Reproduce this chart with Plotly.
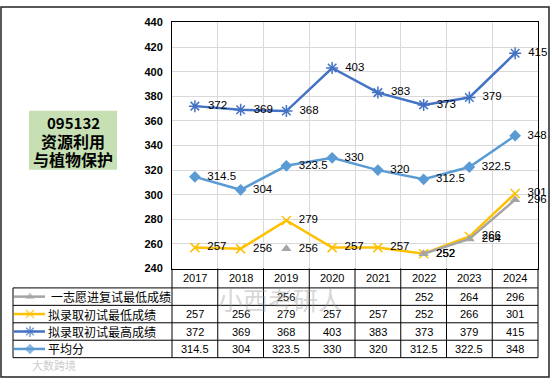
import plotly.graph_objects as go

# ---------------- data ----------------
years = ["2017", "2018", "2019", "2020", "2021", "2022", "2023", "2024"]
first_choice_min = [None, None, 256, None, None, 252, 264, 296]
admit_min = [257, 256, 279, 257, 257, 252, 266, 301]
admit_max = [372, 369, 368, 403, 383, 373, 379, 415]
average = [314.5, 304, 323.5, 330, 320, 312.5, 322.5, 348]
series_names = ["一志愿进复试最低成绩", "拟录取初试最低成绩", "拟录取初试最高成绩", "平均分"]
y_ticks = [240, 260, 280, 300, 320, 340, 360, 380, 400, 420, 440]
title_lines = ["095132", "资源利用", "与植物保护"]
watermark = "小西考研人"

# ---------------- layout helpers (pixel -> paper) ----------------
W, H = 552, 384
def px(x):
    return x / W
def py(y):
    return 1 - y / H

PL, PR, PT, PB = 172, 538, 17, 271      # plot area in pixels
ROW_H = 18
HEADER_B = 291
ROWS_B = [HEADER_B + ROW_H * (i + 1) for i in range(4)]
TAB_L = 13
col_w = (PR - PL) / len(years)

colors = ["#A5A5A5", "#FFC000", "#4472C4", "#5B9BD5"]
num_font = "Liberation Sans"
cjk_font = "Noto Sans CJK SC"

def fmt(v):
    if v is None:
        return ""
    return ("%g" % v)

fig = go.Figure()

series = [first_choice_min, admit_min, admit_max, average]
markers = [
    dict(symbol="triangle-up", size=9, color=colors[0]),
    dict(symbol="x-thin", size=9, color=colors[1], line=dict(color=colors[1], width=1.5)),
    dict(symbol="asterisk-open", size=10, color=colors[2], line=dict(color=colors[2], width=1.5)),
    dict(symbol="diamond", size=9, color=colors[3]),
]
draw_order = [1, 0, 2, 3]
for i in draw_order:
    vals = series[i]
    fig.add_trace(go.Scatter(
        x=years, y=vals, name=series_names[i],
        mode="lines+markers+text",
        text=[("\u2002" + fmt(v)) if v is not None else "" for v in vals],
        textposition="middle right",
        textfont=dict(family=num_font, size=11.5, color="#000000"),
        line=dict(color=colors[i], width=2.5),
        marker=markers[i],
        connectgaps=False,
        cliponaxis=False,
        showlegend=False,
        hoverinfo="skip",
    ))

# legend keys in table rows (overlay pixel axes)
for i in range(4):
    cy = HEADER_B + ROW_H * (i + 0.5)
    fig.add_trace(go.Scatter(
        x=[14, 30, 45], y=[cy, cy, cy], xaxis="x2", yaxis="y2",
        mode="lines+markers",
        line=dict(color=colors[i], width=2.5),
        marker=dict(
            symbol=[markers[i]["symbol"]] * 3,
            size=[0, markers[i]["size"] - 1, 0],
            color=colors[i],
            line=dict(color=colors[i], width=1.5 if i in (1, 2) else 0),
        ),
        showlegend=False, hoverinfo="skip", cliponaxis=False,
    ))

fig.update_layout(
    width=W, height=H,
    margin=dict(l=0, r=0, t=0, b=0),
    paper_bgcolor="#FFFFFF",
    plot_bgcolor="rgba(0,0,0,0)",
    hovermode=False,
    xaxis=dict(
        domain=[px(PL), px(PR)], type="category", range=[-0.5, 7.5],
        tickson="boundaries", showticklabels=False, ticks="",
        showgrid=True, gridcolor="#D9D9D9", gridwidth=1,
        showline=True, linecolor="#000000", linewidth=1, mirror=True,
        zeroline=False, fixedrange=True,
    ),
    yaxis=dict(
        domain=[py(PB), py(PT)], range=[240, 440], tickvals=y_ticks,
        showgrid=True, gridcolor="#D9D9D9", gridwidth=1,
        ticks="outside", ticklen=6, tickcolor="rgba(0,0,0,0)",
        tickfont=dict(family=num_font, size=11, color="#000000", weight="bold"),
        showline=True, linecolor="#000000", linewidth=1, mirror=True,
        zeroline=False, fixedrange=True,
    ),
    xaxis2=dict(domain=[0, 1], range=[0, W], visible=False, anchor="y2", fixedrange=True),
    yaxis2=dict(domain=[0, 1], range=[H, 0], visible=False, anchor="x2", fixedrange=True),
)

shapes = []
ann = []
line_black = dict(color="#000000", width=1)

# outer border
shapes.append(dict(type="rect", xref="paper", yref="paper",
                   x0=px(1), x1=px(549), y0=py(383), y1=py(1),
                   line=dict(color="#222222", width=1.5)))

# green title box
shapes.append(dict(type="rect", xref="paper", yref="paper",
                   x0=px(29), x1=px(117), y0=py(169), y1=py(108),
                   fillcolor="#C6E0B4", line=dict(width=0), layer="below"))
for j, (t, yy) in enumerate(zip(title_lines, [120, 139, 158])):
    ann.append(dict(xref="paper", yref="paper", x=px(73), y=py(yy),
                    text="<b>%s</b>" % t, showarrow=False,
                    xanchor="center", yanchor="middle",
                    font=dict(family=cjk_font, size=16 if j else 15, color="#000000")))

# table grid
for yy in [HEADER_B] + ROWS_B:
    shapes.append(dict(type="line", xref="paper", yref="paper",
                       x0=px(TAB_L), x1=px(PR), y0=py(yy), y1=py(yy), line=line_black))
shapes.append(dict(type="line", xref="paper", yref="paper",
                   x0=px(TAB_L), x1=px(TAB_L), y0=py(HEADER_B), y1=py(ROWS_B[-1]), line=line_black))
for k in range(len(years) + 1):
    xx = PL + col_w * k
    shapes.append(dict(type="line", xref="paper", yref="paper",
                       x0=px(xx), x1=px(xx), y0=py(PB), y1=py(ROWS_B[-1]), line=line_black))

# header years
for k, yr in enumerate(years):
    ann.append(dict(xref="paper", yref="paper", x=px(PL + col_w * (k + 0.5)),
                    y=py((PB + HEADER_B) / 2), text=yr, showarrow=False,
                    xanchor="center", yanchor="middle",
                    font=dict(family=num_font, size=11, color="#000000")))

# row labels and values
for i in range(4):
    cy = HEADER_B + ROW_H * (i + 0.5)
    ann.append(dict(xref="paper", yref="paper", x=px(46 if i else 49), y=py(cy),
                    text=series_names[i], showarrow=False,
                    xanchor="left", yanchor="middle",
                    font=dict(family=cjk_font, size=12, color="#000000")))
    for k, v in enumerate(series[i]):
        if v is None:
            continue
        ann.append(dict(xref="paper", yref="paper", x=px(PL + col_w * (k + 0.5)),
                        y=py(cy), text=fmt(v), showarrow=False,
                        xanchor="center", yanchor="middle",
                        font=dict(family=num_font, size=11, color="#000000")))

# watermarks
ann.append(dict(xref="paper", yref="paper", x=px(280), y=py(302), text=watermark,
                showarrow=False, xanchor="center", yanchor="middle",
                font=dict(family=cjk_font, size=25, color="rgba(150,150,150,0.4)")))
ann.append(dict(xref="paper", yref="paper", x=px(30), y=py(371), text="大数跨境",
                showarrow=False, xanchor="left", yanchor="middle",
                font=dict(family=cjk_font, size=11, color="rgba(170,170,170,0.6)")))

fig.update_layout(shapes=shapes, annotations=ann)

fig.write_html("out.html",
               config={"displayModeBar": False, "staticPlot": True},
               post_script="document.body.style.margin='0';document.body.style.padding='0';")
